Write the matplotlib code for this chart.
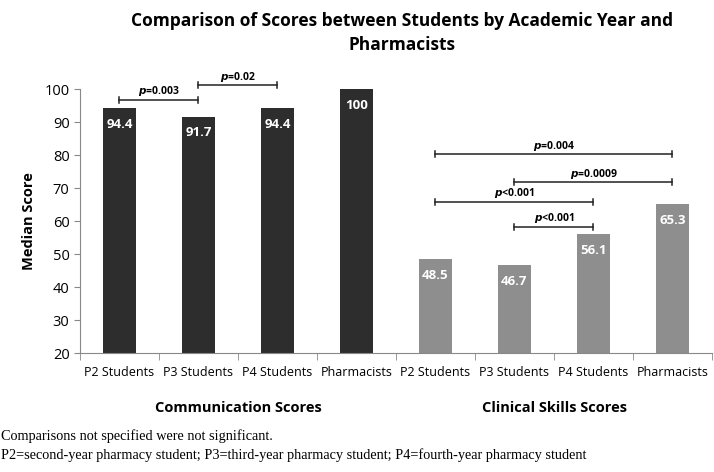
import numpy as np
from matplotlib import pyplot as plt

plt.rcParams['font.family'] = ['Open Sans', 'DejaVu Sans']

categories = ['P2 Students', 'P3 Students', 'P4 Students', 'Pharmacists',
              'P2 Students', 'P3 Students', 'P4 Students', 'Pharmacists']
comm_scores = [94.4, 91.7, 94.4, 100]
clin_scores = [48.5, 46.7, 56.1, 65.3]
group_names = ['Communication Scores', 'Clinical Skills Scores']

# (from index, to index, height, label)
comparisons = [
    (0, 1, 96.7, '=0.003'),
    (1, 2, 101.2, '=0.02'),
    (4, 7, 80.3, '=0.004'),
    (5, 7, 71.8, '=0.0009'),
    (4, 6, 65.8, '<0.001'),
    (5, 6, 58.2, '<0.001'),
]

footnotes = ['Comparisons not specified were not significant.',
             'P2=second-year pharmacy student; P3=third-year pharmacy student; P4=fourth-year pharmacy student']

fig = plt.figure(figsize=(7.14, 4.72), dpi=100)
ax = fig.add_axes([0.112, 0.252, 0.885, 0.559])

x = np.arange(len(categories))
values = comm_scores + clin_scores
colors = ['#2d2d2d'] * 4 + ['#8e8e8e'] * 4
ax.bar(x, [v - 20 for v in values], bottom=20, width=0.41, color=colors)

for xi, v in zip(x, values):
    ax.text(xi, v - 3.0, f'{v:g}', ha='center', va='top', color='white',
            fontsize=9.5, fontweight='bold')

for a, b, h, lab in comparisons:
    ax.plot([a, b], [h, h], color='#222222', lw=1.1, clip_on=False)
    for e in (a, b):
        ax.plot([e, e], [h - 0.9, h + 0.9], color='#222222', lw=1.1, clip_on=False)
    ax.text((a + b) / 2, h + 0.5, r'$\mathbfit{p}$' + lab, ha='center', va='bottom',
            fontsize=7.5, fontweight='bold')

ax.set_xlim(-0.5, 7.5)
ax.set_ylim(20, 100)
ax.set_yticks(range(20, 101, 10))
ax.set_xticks(x)
ax.set_xticklabels(categories, fontsize=9)
ax.tick_params(axis='x', length=0, pad=9)
ax.set_xticks(np.arange(-0.5, 8.0, 1.0), minor=True)
ax.tick_params(axis='x', which='minor', length=5, color='#888888')
ax.tick_params(axis='y', labelsize=10.5, length=4, color='#888888')
for s in ['top', 'right']:
    ax.spines[s].set_visible(False)
ax.spines['left'].set_color('#888888')
ax.spines['bottom'].set_color('#888888')
ax.set_ylabel('Median Score', fontsize=10.5, fontweight='bold', labelpad=6)

fig.text(0.563, 0.975, 'Comparison of Scores between Students by Academic Year and\nPharmacists',
         ha='center', va='top', fontsize=12.5, fontweight='bold', linespacing=1.45)

fig.text(238 / 714, 1 - 408 / 472, group_names[0], ha='center', va='center',
         fontsize=10.5, fontweight='bold')
fig.text(555 / 714, 1 - 408 / 472, group_names[1], ha='center', va='center',
         fontsize=10.5, fontweight='bold')

fig.text(0.001, 1 - 436 / 472, footnotes[0], ha='left', va='center',
         fontsize=10.3, family='Liberation Serif')
fig.text(0.001, 1 - 455 / 472, footnotes[1], ha='left', va='center',
         fontsize=10.3, family='Liberation Serif')

fig.savefig('out.png', dpi=100)
